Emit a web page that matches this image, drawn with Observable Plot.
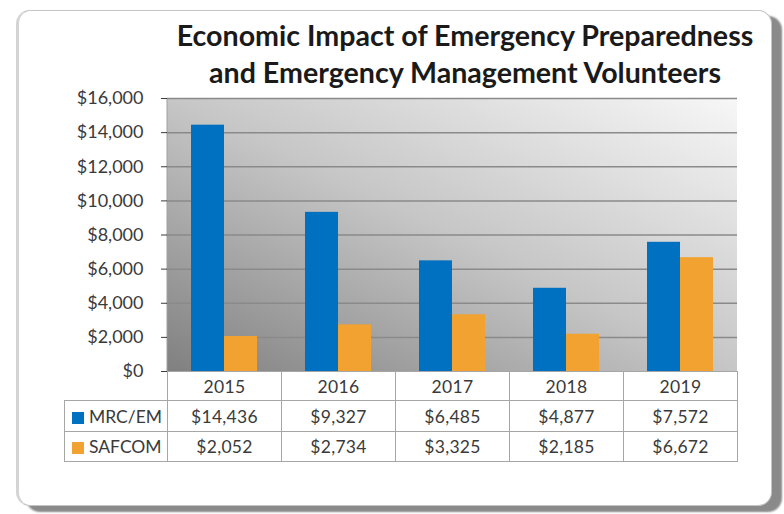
<!DOCTYPE html>
<html><head><meta charset="utf-8">
<script src="https://cdn.jsdelivr.net/npm/d3@7"></script>
<script src="https://cdn.jsdelivr.net/npm/@observablehq/plot@0.6"></script>
<style>
body{margin:0;background:#fff;}
#wrap{position:relative;width:784px;height:514px;overflow:hidden;font-family:Lato,"Open Sans",sans-serif;color:#3a3a3a;}
#card{position:absolute;left:16px;top:10px;width:752px;height:494px;border:1px solid #c4c4c4;border-left:3px solid #d4d4d4;border-radius:14px;box-shadow:10px 6px 2px #8a8a8a;background:#fff;}
#title{position:absolute;left:115px;top:17px;width:700px;text-align:center;font-weight:700;font-size:28.6px;line-height:37px;color:#1a1a1a;}
#chart{position:absolute;left:0;top:0;}
#tbl{position:absolute;left:64px;top:371px;border-collapse:collapse;table-layout:fixed;font-size:17.5px;letter-spacing:0.3px;color:#3a3a3a;}
#tbl td{border:1px solid #a6a6a6;padding:0;text-align:center;white-space:nowrap;}
#tbl td.blank{border:none;}
#tbl td.lab{text-align:left;padding-left:7px;letter-spacing:0;}
.key{display:inline-block;width:12px;height:12px;margin-right:5px;vertical-align:-1px;}
</style></head>
<body>
<div id="wrap">
  <div id="card"></div>
  <div id="title">Economic Impact of Emergency Preparedness<br>and Emergency Management Volunteers</div>
  <div id="chart"></div>
  <table id="tbl"></table>
</div>
<script>
const years = ["2015", "2016", "2017", "2018", "2019"];
const series = ["MRC/EM", "SAFCOM"];
const mrc = [14436, 9327, 6485, 4877, 7572];
const safcom = [2052, 2734, 3325, 2185, 6672];
const colors = ["#0070C0", "#F2A231"];
const gridTicks = [2000, 4000, 6000, 8000, 10000, 12000, 14000, 16000];

const data = [];
years.forEach((y, i) => {
  data.push({year: y, series: series[0], value: mrc[i]});
  data.push({year: y, series: series[1], value: safcom[i]});
});
const money = d => "$" + d3.format(",")(d);

const plot = Plot.plot({
  width: 784, height: 372,
  marginLeft: 167, marginRight: 47, marginTop: 98, marginBottom: 1,
  style: {background: "transparent", overflow: "visible", fontFamily: "Lato, 'Open Sans', sans-serif", fontSize: "18px", color: "#3a3a3a"},
  fx: {domain: years, padding: 0, axis: null},
  x: {domain: series, paddingInner: 0, paddingOuter: 0.727, axis: null},
  y: {domain: [0, 16000], ticks: 8, tickFormat: money, tickSize: 6, tickPadding: 18, label: null},
  color: {domain: series, range: colors},
  marks: [
    Plot.ruleY(gridTicks, {stroke: "#8a8a8a", strokeWidth: 1.5}),
    Plot.barY(data, {fx: "year", x: "series", y: "value", fill: "series"})
  ]
});

// gradient plot-area background behind the marks
const ns = "http://www.w3.org/2000/svg";
const yS = plot.scale("y"), fxS = plot.scale("fx");
const yTop = yS.apply(16000), yBot = yS.apply(0);
const xL = fxS.range[0], xR = fxS.range[1];
const defs = document.createElementNS(ns, "defs");
defs.innerHTML = '<linearGradient id="bgGrad" x1="0" y1="1" x2="1" y2="0"><stop offset="0" stop-color="#808080"/><stop offset="0.5" stop-color="#c6c6c6"/><stop offset="1" stop-color="#f7f7f7"/></linearGradient>';
const rect = document.createElementNS(ns, "rect");
rect.setAttribute("x", xL); rect.setAttribute("y", yTop);
rect.setAttribute("width", xR - xL); rect.setAttribute("height", yBot - yTop);
rect.setAttribute("fill", "url(#bgGrad)");
const vline = document.createElementNS(ns, "line");
vline.setAttribute("x1", xL); vline.setAttribute("x2", xL);
vline.setAttribute("y1", yTop); vline.setAttribute("y2", yBot);
vline.setAttribute("stroke", "#a0a0a0");
const styleEl = plot.querySelector("style");
const anchor = styleEl ? styleEl.nextSibling : plot.firstChild;
plot.insertBefore(defs, anchor);
plot.insertBefore(rect, anchor);
plot.insertBefore(vline, anchor);
document.getElementById("chart").appendChild(plot);

// data table (x-axis + values)
const tbl = document.getElementById("tbl");
const colW = (xR - xL) / years.length;
let html = '<colgroup><col style="width:' + (xL - 64) + 'px">' + years.map(() => '<col style="width:' + colW + 'px">').join("") + '</colgroup>';
html += '<tr style="height:29px"><td class="blank"></td>' + years.map(y => "<td>" + y + "</td>").join("") + "</tr>";
[mrc, safcom].forEach((vals, k) => {
  html += '<tr style="height:' + (k ? 30 : 31) + 'px"><td class="lab"><span class="key" style="background:' + colors[k] + '"></span>' + series[k] + "</td>" + vals.map(v => "<td>" + money(v) + "</td>").join("") + "</tr>";
});
tbl.innerHTML = html;
</script>
</body></html>
